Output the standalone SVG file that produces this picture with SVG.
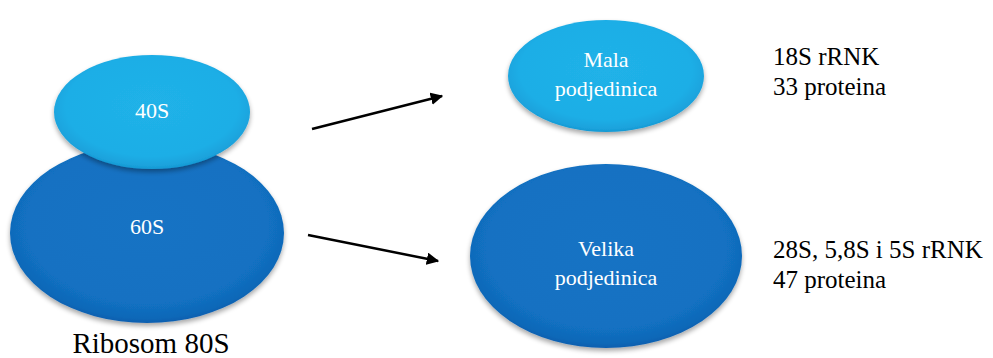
<svg xmlns="http://www.w3.org/2000/svg" width="993" height="358" viewBox="0 0 993 358">
<defs>
<radialGradient id="gLight" cx="50%" cy="45%" r="55%">
<stop offset="0" stop-color="#20b2e8"/>
<stop offset="0.8" stop-color="#1eaee6"/>
<stop offset="0.95" stop-color="#1aa2dc"/>
<stop offset="1" stop-color="#1798d2"/>
</radialGradient>
<radialGradient id="gDark" cx="50%" cy="45%" r="55%">
<stop offset="0" stop-color="#1373c4"/>
<stop offset="0.8" stop-color="#1271c2"/>
<stop offset="0.95" stop-color="#1068b8"/>
<stop offset="1" stop-color="#0e5faf"/>
</radialGradient>
<filter id="shadow" x="-10%" y="-10%" width="120%" height="125%">
<feGaussianBlur in="SourceAlpha" stdDeviation="2.5"/>
<feOffset dx="0" dy="3" result="b"/>
<feComponentTransfer><feFuncA type="linear" slope="0.35"/></feComponentTransfer>
<feMerge><feMergeNode/><feMergeNode in="SourceGraphic"/></feMerge>
</filter>
<marker id="arrow" viewBox="0 0 10 10" refX="9" refY="5" markerWidth="5" markerHeight="5" orient="auto" markerUnits="strokeWidth">
<path d="M0,0 L10,5 L0,10 z" fill="#000"/>
</marker>
</defs>
<style>
.light{fill:url(#gLight);filter:url(#shadow)}
.dark{fill:url(#gDark);filter:url(#shadow)}
.in{font-family:"Liberation Serif","Times New Roman",serif;font-size:22px;fill:#ffffff;text-anchor:middle}
.out{font-family:"Liberation Serif","Times New Roman",serif;font-size:25px;fill:#000}
.cap{font-family:"Liberation Serif","Times New Roman",serif;font-size:29px;fill:#000;text-anchor:middle}
.conn{stroke:#000;stroke-width:2.5;fill:none;marker-end:url(#arrow)}
</style>
<rect width="993" height="358" fill="#ffffff"/>
<g id="ribosome80S">
<g id="node60S">
<ellipse class="dark" cx="147" cy="233" rx="137" ry="90"/>
<text class="in" x="147" y="234">60S</text>
</g>
<g id="node40S">
<ellipse class="light" cx="152" cy="112" rx="98" ry="57"/>
<text class="in" x="152" y="118">40S</text>
</g>
<text class="cap" x="151" y="353">Ribosom 80S</text>
</g>
<g id="mala">
<ellipse class="light" cx="606" cy="76" rx="98" ry="56"/>
<text class="in" x="606" y="67">Mala</text>
<text class="in" x="606" y="96">podjedinica</text>
</g>
<g id="velika">
<ellipse class="dark" cx="606" cy="256" rx="136" ry="92"/>
<text class="in" x="606" y="256">Velika</text>
<text class="in" x="606" y="285">podjedinica</text>
</g>
<g id="malaInfo">
<text class="out" x="773" y="65">18S rRNK</text>
<text class="out" x="773" y="95">33 proteina</text>
</g>
<g id="velikaInfo">
<text class="out" x="773" y="258">28S, 5,8S i 5S rRNK</text>
<text class="out" x="773" y="288">47 proteina</text>
</g>
<g id="connectors">
<line class="conn" x1="312" y1="129" x2="442" y2="96"/>
<line class="conn" x1="308" y1="235" x2="438" y2="261"/>
</g>
</svg>
